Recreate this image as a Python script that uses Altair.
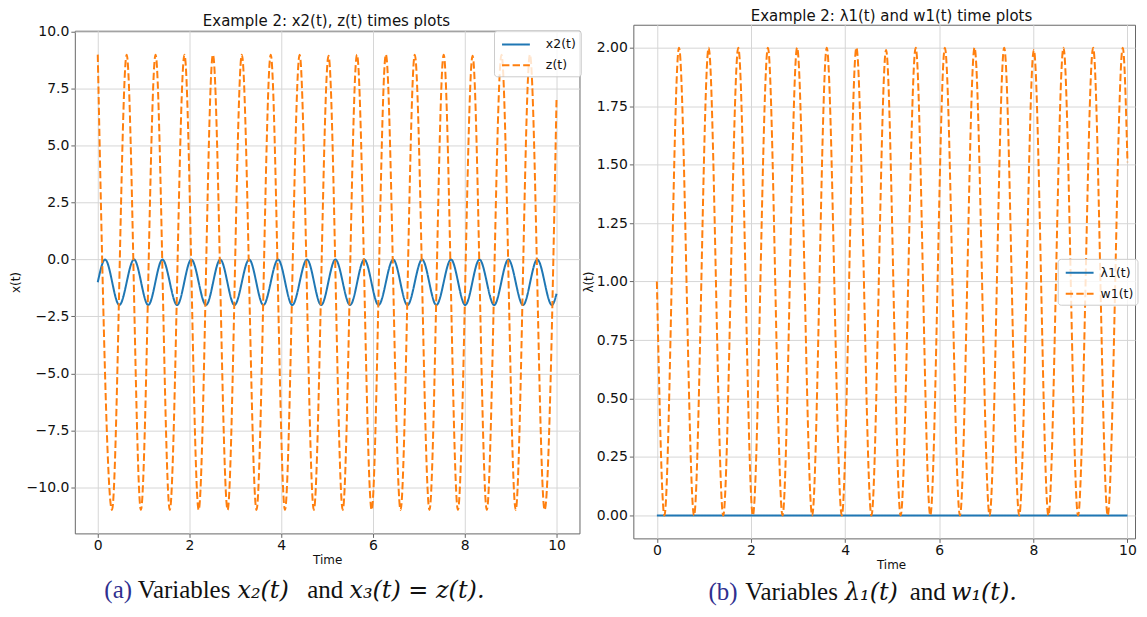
import altair as alt
import pandas as pd

# ---------------- data ----------------
# left panel: x2(t) (solid) and z(t) (dashed), extrema + end points
x2_t = [0.00, 0.16, 0.47, 0.79, 1.10, 1.41, 1.73, 2.04, 2.36, 2.67, 2.98, 3.30,
        3.61, 3.93, 4.24, 4.56, 4.87, 5.18, 5.50, 5.81, 6.12, 6.44, 6.75, 7.07,
        7.38, 7.70, 8.01, 8.32, 8.64, 8.95, 9.27, 9.58, 9.90, 10.00]
x2_v = [-1.0, 0.0, -2.0, 0.0, -2.0, 0.0, -2.0, 0.0, -2.0, 0.0, -2.0, 0.0,
        -2.0, 0.0, -2.0, 0.0, -2.0, 0.0, -2.0, 0.0, -2.0, 0.0, -2.0, 0.0,
        -2.0, 0.0, -2.0, 0.0, -2.0, 0.0, -2.0, 0.0, -2.0, -1.5]

z_t = [0.00, 0.31, 0.63, 0.94, 1.26, 1.57, 1.89, 2.20, 2.51, 2.83, 3.14, 3.46,
       3.77, 4.08, 4.40, 4.71, 5.03, 5.34, 5.65, 5.97, 6.28, 6.60, 6.91, 7.23,
       7.54, 7.85, 8.17, 8.48, 8.80, 9.11, 9.42, 9.74, 10.00]
z_v = [9.0, -11.0, 9.0, -11.0, 9.0, -11.0, 9.0, -11.0, 9.0, -11.0, 9.0, -11.0,
       9.0, -11.0, 9.0, -11.0, 8.95, -11.0, 9.0, -11.0, 9.0, -11.0, 9.0, -11.0,
       9.0, -11.0, 8.95, -11.0, 9.0, -11.0, 9.0, -11.0, 7.1]

# right panel: lambda1(t) (solid) and w1(t) (dashed)
lam_t = [0.0, 10.0]
lam_v = [0.0, 0.0]

w1_t = [0.00, 0.16, 0.47, 0.79, 1.10, 1.41, 1.73, 2.04, 2.36, 2.67, 2.98, 3.30,
        3.61, 3.93, 4.24, 4.56, 4.87, 5.18, 5.50, 5.81, 6.12, 6.44, 6.75, 7.07,
        7.38, 7.70, 8.01, 8.32, 8.64, 8.95, 9.27, 9.58, 9.90, 10.00]
w1_v = [1.0, 0.0, 2.0, 0.0, 2.0, 0.0, 2.0, 0.0, 2.0, 0.0, 2.0, 0.0,
        2.0, 0.0, 2.0, 0.0, 1.99, 0.0, 2.0, 0.0, 2.0, 0.0, 2.0, 0.0,
        2.0, 0.0, 1.99, 0.0, 2.0, 0.0, 2.0, 0.0, 2.0, 1.51]

left_series = ["x2(t)", "z(t)"]
right_series = ["λ1(t)", "w1(t)"]
series_colors = ["#1f77b4", "#ff7f0e"]
series_dashes = [[1, 0], [7.4, 3.2]]

x_ticks = [0, 2, 4, 6, 8, 10]
left_y_ticks = [-10.0, -7.5, -5.0, -2.5, 0.0, 2.5, 5.0, 7.5, 10.0]
right_y_ticks = [0.0, 0.25, 0.5, 0.75, 1.0, 1.25, 1.5, 1.75, 2.0]

left_title = "Example 2: x2(t), z(t) times plots"
right_title = "Example 2: λ1(t) and w1(t) time plots"

left_df = pd.DataFrame({
    "t": x2_t + z_t,
    "v": x2_v + z_v,
    "series": [left_series[0]] * len(x2_t) + [left_series[1]] * len(z_t),
})
right_df = pd.DataFrame({
    "t": lam_t + w1_t,
    "v": lam_v + w1_v,
    "series": [right_series[0]] * len(lam_t) + [right_series[1]] * len(w1_t),
})

FONT = "DejaVu Sans"
SERIF = "Liberation Serif"
MATH = "DejaVu Serif"
INK = "#111111"


def note(text, x, y, size, color=INK, style="normal", font=SERIF,
         align="left", baseline="alphabetic"):
    return alt.Chart(alt.Data(values=[{}])).mark_text(
        text=text, font=font, fontSize=size, fontStyle=style, color=color,
        align=align, baseline=baseline
    ).encode(x=alt.value(x), y=alt.value(y))


def make_legend(lx, ly, label_offset):
    return alt.Legend(
        orient="none", legendX=lx, legendY=ly,
        symbolType="M-1.55,0H1.55", symbolSize=324, symbolStrokeWidth=2,
        symbolOffset=8, labelOffset=label_offset, padding=4, rowPadding=4,
        labelFont=FONT, labelFontSize=12.5, labelColor=INK,
        strokeColor="#cccccc", fillColor="rgba(255,255,255,0.8)",
        cornerRadius=3,
    )


def panel(df, series, xdom, ydom, yticks, yfmt, ytitle, ytp, w, h, lxy,
          xtitle_x, extra):
    leg = make_legend(*lxy)
    color = alt.Color("series:N", title=None,
                      scale=alt.Scale(domain=series, range=series_colors),
                      legend=leg)
    dash = alt.StrokeDash("series:N", title=None,
                          scale=alt.Scale(domain=series, range=series_dashes),
                          legend=leg)
    x = alt.X("t:Q", scale=alt.Scale(domain=xdom, nice=False, zero=False),
              axis=alt.Axis(values=x_ticks, format="d", title="Time",
                            titleX=xtitle_x))
    y = alt.Y("v:Q", scale=alt.Scale(domain=ydom, nice=False, zero=False),
              axis=alt.Axis(values=yticks, format=yfmt, title=ytitle,
                            titlePadding=ytp))
    base = alt.Chart(df).mark_line(strokeWidth=2, interpolate="monotone",
                                   clip=True).encode(
        x=x, y=y, color=color, strokeDash=dash)
    l1 = base.transform_filter(alt.datum.series == series[0])
    l2 = base.transform_filter(alt.datum.series == series[1])
    return alt.layer(l1, l2, *extra).properties(width=w, height=h)


CAP = 25
MCAP = 24
BLUE = "#2f2f8f"
LCAP_Y = 569.0
RCAP_Y = 576.5

left_extra = [
    note(left_title, 252.3, -9.8, 15, font=FONT, align="center", baseline="middle"),
    note("(a)", 29.6, LCAP_Y, CAP, color=BLUE),
    note("Variables", 63.0, LCAP_Y, CAP),
    note("x₂(t)", 163.0, LCAP_Y, MCAP, style="italic", font=MATH),
    note("and", 233.0, LCAP_Y, CAP),
    note("x₃(t) = z(t).", 275.3, LCAP_Y, MCAP, style="italic", font=MATH),
]
right_extra = [
    note(right_title, 258.8, -8.5, 15, font=FONT, align="center", baseline="middle"),
    note("(b)", 75.4, RCAP_Y, CAP, color=BLUE),
    note("Variables", 112.1, RCAP_Y, CAP),
    note("λ₁(t)", 212.1, RCAP_Y, MCAP, style="italic", font=MATH),
    note("and", 277.1, RCAP_Y, CAP),
    note("w₁(t).", 318.4, RCAP_Y, MCAP, style="italic", font=MATH),
]

left_panel = panel(left_df, left_series, [-0.5, 10.5], [-12.03, 10.05],
                   left_y_ticks, ".1f", "x(t)", 4, 506, 504, (420.3, 5.7, 20),
                   253, left_extra)
right_panel = panel(right_df, right_series, [-0.5, 10.16], [-0.098, 2.098],
                    right_y_ticks, ".2f", "λ(t)", 1, 503, 515,
                    (425.5, 234.7, 11), 258.4, right_extra)

spacer = alt.Chart(alt.Data(values=[{}])).mark_point(opacity=0).encode(
    x=alt.value(0), y=alt.value(0)
).properties(width=506, height=6,
             view=alt.ViewBackground(stroke="transparent"))

left = alt.vconcat(spacer, left_panel, spacing=0, bounds="flush")

chart = alt.hconcat(left, right_panel, spacing=0).resolve_scale(
    x="independent", y="independent", color="independent",
    strokeDash="independent"
).properties(
    padding={"left": 0, "top": 0, "right": 0, "bottom": 0},
    background="white",
).configure_view(
    stroke="#666666", strokeWidth=1
).configure_axis(
    domain=False, grid=True, gridColor="#d6d6d6", gridWidth=1,
    tickColor="#666666", tickSize=4, labelFont=FONT, labelFontSize=14,
    labelColor=INK, titleFont=FONT, titleFontSize=12,
    titleFontWeight="normal", titleColor=INK, labelFlush=False,
).configure_axisX(
    labelPadding=1, titlePadding=2
).configure_axisY(
    labelPadding=2
)

chart.save("out.html", embed_options={"renderer": "svg", "actions": False})
